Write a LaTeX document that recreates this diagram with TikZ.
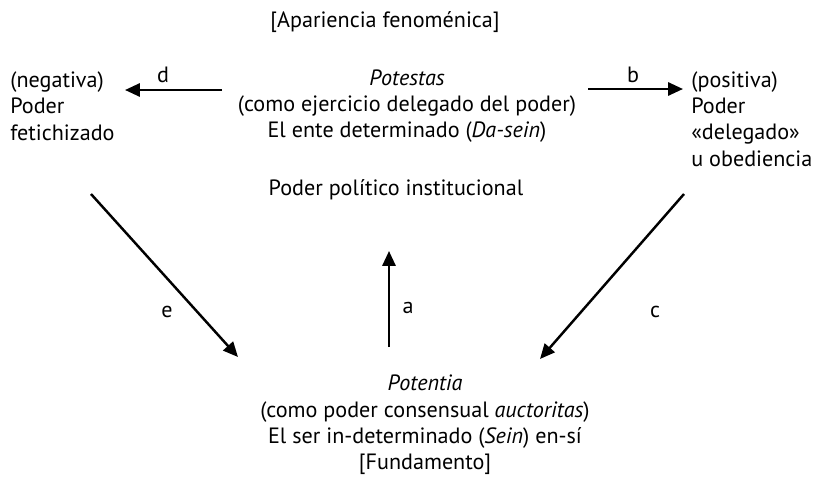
\documentclass[tikz,border=0pt]{standalone}
\usepackage{fontspec}
\setmainfont{PT Sans}
\usepackage{tikz}
\usetikzlibrary{arrows.meta}

\tikzset{
    txt/.style={font=\fontsize{12.6}{15}\selectfont, inner sep=0pt, align=center},
    txtl/.style={txt, align=left, anchor=west},
    flecha/.style={line width=1.4pt, -{Triangle[length=8.5pt,width=7.5pt]}},
    lbl/.style={font=\fontsize{12.6}{15}\selectfont, inner sep=0pt}
}

\begin{document}
\begin{tikzpicture}[x=0.02cm, y=-0.02cm]
        \useasboundingbox (0,0) rectangle (826,487);
        % texts
        \node[txt] (fenom) at (385,22) {[Apariencia fenoménica]};
        \node[txt] (potestas) at (407,106) {\textit{Potestas}\\(como ejercicio delegado del poder)\\El ente determinado (\textit{Da-sein})};
        \node[txt] (inst) at (396,190) {Poder político institucional};
        \node[txtl] (negativa) at (10,106) {(negativa)\\Poder\\fetichizado};
        \node[txtl] (positiva) at (691,119) {(positiva)\\Poder\\«delegado»\\u obediencia};
        \node[txt] (potentia) at (425,425) {\textit{Potentia}\\(como poder consensual \textit{auctoritas})\\El ser in-determinado (\textit{Sein}) en-sí\\{[Fundamento]}};
        % arrow ends
        \coordinate (d0) at (222,90);
        \coordinate (d1) at (125,90);
        \coordinate (b0) at (588,89);
        \coordinate (b1) at (683,89);
        \coordinate (e0) at (91,194);
        \coordinate (e1) at (238,357);
        \coordinate (a0) at (389,347);
        \coordinate (a1) at (389,251);
        \coordinate (c0) at (684,194);
        \coordinate (c1) at (540,359);
        % arrows
        \draw[flecha] (d0) -- (d1);
        \draw[flecha] (b0) -- (b1);
        \draw[flecha] (e0) -- (e1);
        \draw[flecha] (a0) -- (a1);
        \draw[flecha] (c0) -- (c1);
        \node[lbl] (ld) at (163,75) {d};
        \node[lbl] (lb) at (633,75) {b};
        \node[lbl] (le) at (167,312) {e};
        \node[lbl] (la) at (408,308) {a};
        \node[lbl] (lc) at (655,312) {c};
\end{tikzpicture}
\end{document}
